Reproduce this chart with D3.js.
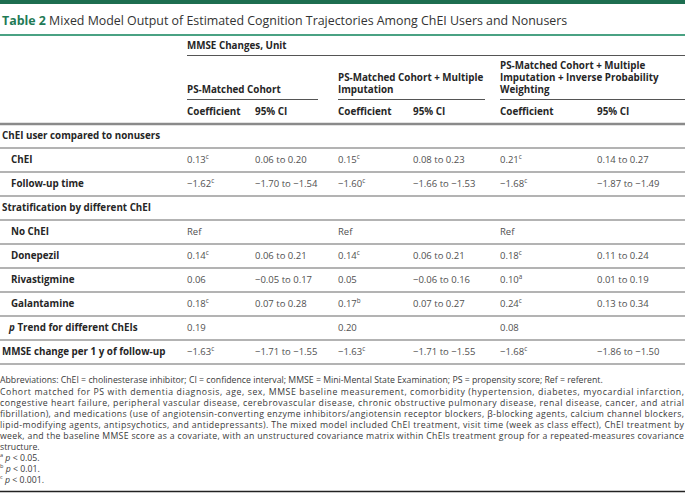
<!DOCTYPE html>
<html>
<head>
<meta charset="utf-8">
<script src="https://cdnjs.cloudflare.com/ajax/libs/d3/7.8.5/d3.min.js"></script>
<style>
  body { margin: 0; background: #fff; }
  svg { font-family: "Open Sans", sans-serif; display: block; }
  .lab { font-weight: bold; fill: #262626; }
  .val { fill: #505050; }
  .note { fill: #3a3a3a; }
</style>
</head>
<body>
<div id="tbl"></div>
<script>
// table content
var headerLines = [["PS-Matched Cohort"],
                   ["PS-Matched Cohort + Multiple", "Imputation"],
                   ["PS-Matched Cohort + Multiple", "Imputation + Inverse Probability", "Weighting"]];

var rows = [
  {type: "section", label: "ChEI user compared to nonusers"},
  {type: "row", label: "ChEI", indent: 11},
  {type: "row", label: "Follow-up time", indent: 11},
  {type: "section", label: "Stratification by different ChEI"},
  {type: "row", label: "No ChEI", indent: 11},
  {type: "row", label: "Donepezil", indent: 11},
  {type: "row", label: "Rivastigmine", indent: 11},
  {type: "row", label: "Galantamine", indent: 11},
  {type: "row", label: "Trend for different ChEIs", italicP: true, indent: 9},
  {type: "row", label: "MMSE change per 1 y of follow-up", indent: 2}
];

// coefficient, superscript, CI for each data row (8 rows)
var coef1 = ["0.13", "−1.62", "Ref", "0.14", "0.06", "0.18", "0.19", "−1.63"];
var sup1  = ["c", "c", "", "c", "", "c", "", "c"];
var ci1   = ["0.06 to 0.20", "−1.70 to −1.54", "", "0.06 to 0.21", "−0.05 to 0.17", "0.07 to 0.28", "", "−1.71 to −1.55"];

var coef2 = ["0.15", "−1.60", "Ref", "0.14", "0.05", "0.17", "0.20", "−1.63"];
var sup2  = ["c", "c", "", "c", "", "b", "", "c"];
var ci2   = ["0.08 to 0.23", "−1.66 to −1.53", "", "0.06 to 0.21", "−0.06 to 0.16", "0.07 to 0.27", "", "−1.71 to −1.55"];

var coef3 = ["0.21", "−1.68", "Ref", "0.18", "0.10", "0.24", "0.08", "−1.68"];
var sup3  = ["c", "c", "", "c", "a", "c", "", "c"];
var ci3   = ["0.14 to 0.27", "−1.87 to −1.49", "", "0.11 to 0.24", "0.01 to 0.19", "0.13 to 0.34", "", "−1.86 to −1.50"];

var notes = [
  "Abbreviations: ChEI = cholinesterase inhibitor; CI = confidence interval; MMSE = Mini-Mental State Examination; PS = propensity score; Ref = referent.",
  "Cohort matched for PS with dementia diagnosis, age, sex, MMSE baseline measurement, comorbidity (hypertension, diabetes, myocardial infarction,",
  "congestive heart failure, peripheral vascular disease, cerebrovascular disease, chronic obstructive pulmonary disease, renal disease, cancer, and atrial",
  "fibrillation), and medications (use of angiotensin-converting enzyme inhibitors/angiotensin receptor blockers, β-blocking agents, calcium channel blockers,",
  "lipid-modifying agents, antipsychotics, and antidepressants). The mixed model included ChEI treatment, visit time (week as class effect), ChEI treatment by",
  "week, and the baseline MMSE score as a covariate, with an unstructured covariance matrix within ChEIs treatment group for a repeated-measures covariance",
  "structure."
];
var justified = [false, true, true, true, true, true, false];
var sigNotes = [["a", "< 0.05."], ["b", "< 0.01."], ["c", "< 0.001."]];

var width = 685, height = 493;
var colX = [187, 255, 338, 413, 500, 597];
var groupEnd = [318, 485, 685];
var rowTop = 124, rowH = 24;
var noteSqueeze = 0.93;

var svg = d3.select("#tbl").append("svg")
    .attr("width", width)
    .attr("height", height);

// top bar + title
svg.append("rect").attr("x", 0).attr("y", 0).attr("width", width).attr("height", 4).attr("fill", "#1d6e50");

var title = svg.append("text").attr("x", 2).attr("y", 25).style("font-size", "12.4px");
title.append("tspan").attr("font-weight", "bold").attr("fill", "#1f7a56").text("Table 2");
title.append("tspan").attr("fill", "#333").text(" Mixed Model Output of Estimated Cognition Trajectories Among ChEI Users and Nonusers");

svg.append("line").attr("x1", 0).attr("x2", width).attr("y1", 35).attr("y2", 35)
    .attr("stroke", "#4aa283").attr("stroke-width", 2);

// header
svg.append("text").attr("class", "lab").attr("x", colX[0]).attr("y", 48.5)
    .style("font-size", "9.8px").text("MMSE Changes, Unit");
svg.append("line").attr("x1", colX[0]).attr("x2", width).attr("y1", 55.5).attr("y2", 55.5)
    .attr("stroke", "#555").attr("stroke-width", 1.2);

headerLines.forEach(function(lines, i) {
  var x = colX[i * 2];
  lines.forEach(function(t, j) {
    svg.append("text").attr("class", "lab").attr("x", x)
        .attr("y", 93 - (lines.length - 1 - j) * 11.8)
        .style("font-size", "9.8px").text(t);
  });
  svg.append("line").attr("x1", x).attr("x2", groupEnd[i]).attr("y1", 99.5).attr("y2", 99.5)
      .attr("stroke", "#555").attr("stroke-width", 1.2);
  svg.append("text").attr("class", "lab").attr("x", x).attr("y", 114.5).style("font-size", "9.9px").text("Coefficient");
  svg.append("text").attr("class", "lab").attr("x", colX[i * 2 + 1]).attr("y", 114.5).style("font-size", "9.9px").text("95% CI");
});

// body lines
var y = d3.scaleLinear().domain([0, rows.length]).range([rowTop, rowTop + rows.length * rowH]);

svg.append("line").attr("x1", 0).attr("x2", width).attr("y1", rowTop).attr("y2", rowTop)
    .attr("stroke", "#8a8a8a").attr("stroke-width", 2.5);

svg.selectAll(".rline")
    .data(rows)
  .enter().append("line")
    .attr("class", "rline")
    .attr("x1", 0).attr("x2", width)
    .attr("y1", function(d, i) { return y(i + 1); })
    .attr("y2", function(d, i) { return y(i + 1); })
    .attr("stroke", "#9a9a9a").attr("stroke-width", 1.6);

var coefs = [coef1, coef2, coef3], sups = [sup1, sup2, sup3], cis = [ci1, ci2, ci3];
var k = 0;
rows.forEach(function(r, i) {
  var ty = y(i) + 15;
  if (r.type === "section") {
    svg.append("text").attr("class", "lab").attr("x", 2).attr("y", ty).style("font-size", "9.8px").text(r.label);
    return;
  }
  var lab = svg.append("text").attr("class", "lab").attr("x", r.indent).attr("y", ty).style("font-size", "9.8px");
  if (r.italicP) {
    lab.append("tspan").attr("font-style", "italic").text("p");
    lab.append("tspan").text(" " + r.label);
  } else {
    lab.text(r.label);
  }
  for (var m = 0; m < 3; m++) {
    var t = svg.append("text").attr("class", "val").attr("x", colX[m * 2]).attr("y", ty).style("font-size", "9.5px");
    t.append("tspan").text(coefs[m][k]);
    if (sups[m][k]) t.append("tspan").attr("dy", -4).style("font-size", "6.3px").text(sups[m][k]);
    if (cis[m][k]) {
      svg.append("text").attr("class", "val").attr("x", colX[m * 2 + 1]).attr("y", ty).style("font-size", "9.5px").text(cis[m][k]);
    }
  }
  k++;
});

// notes (slightly condensed, justified to the full width)
var ng = svg.append("g").attr("transform", "scale(" + noteSqueeze + ",1)");
notes.forEach(function(n, i) {
  var t = ng.append("text").attr("class", "note").attr("x", 0).attr("y", 383.5 + i * 11.1)
      .style("font-size", "9.4px").text(n);
  if (justified[i]) {
    var target = 684 / noteSqueeze;
    var natural = t.node().getComputedTextLength();
    t.attr("textLength", target)
     .attr("lengthAdjust", natural > target ? "spacingAndGlyphs" : "spacing");
  }
});
sigNotes.forEach(function(s, i) {
  var t = ng.append("text").attr("class", "note").attr("x", 0).attr("y", 461.2 + i * 10.8).style("font-size", "9.4px");
  t.append("tspan").style("font-size", "6px").attr("baseline-shift", "super").text(s[0]);
  t.append("tspan").attr("font-style", "italic").text(" p");
  t.append("tspan").text(" " + s[1]);
});

svg.append("line").attr("x1", 0).attr("x2", width).attr("y1", 491.5).attr("y2", 491.5)
    .attr("stroke", "#222").attr("stroke-width", 1.6);
</script>
</body>
</html>
